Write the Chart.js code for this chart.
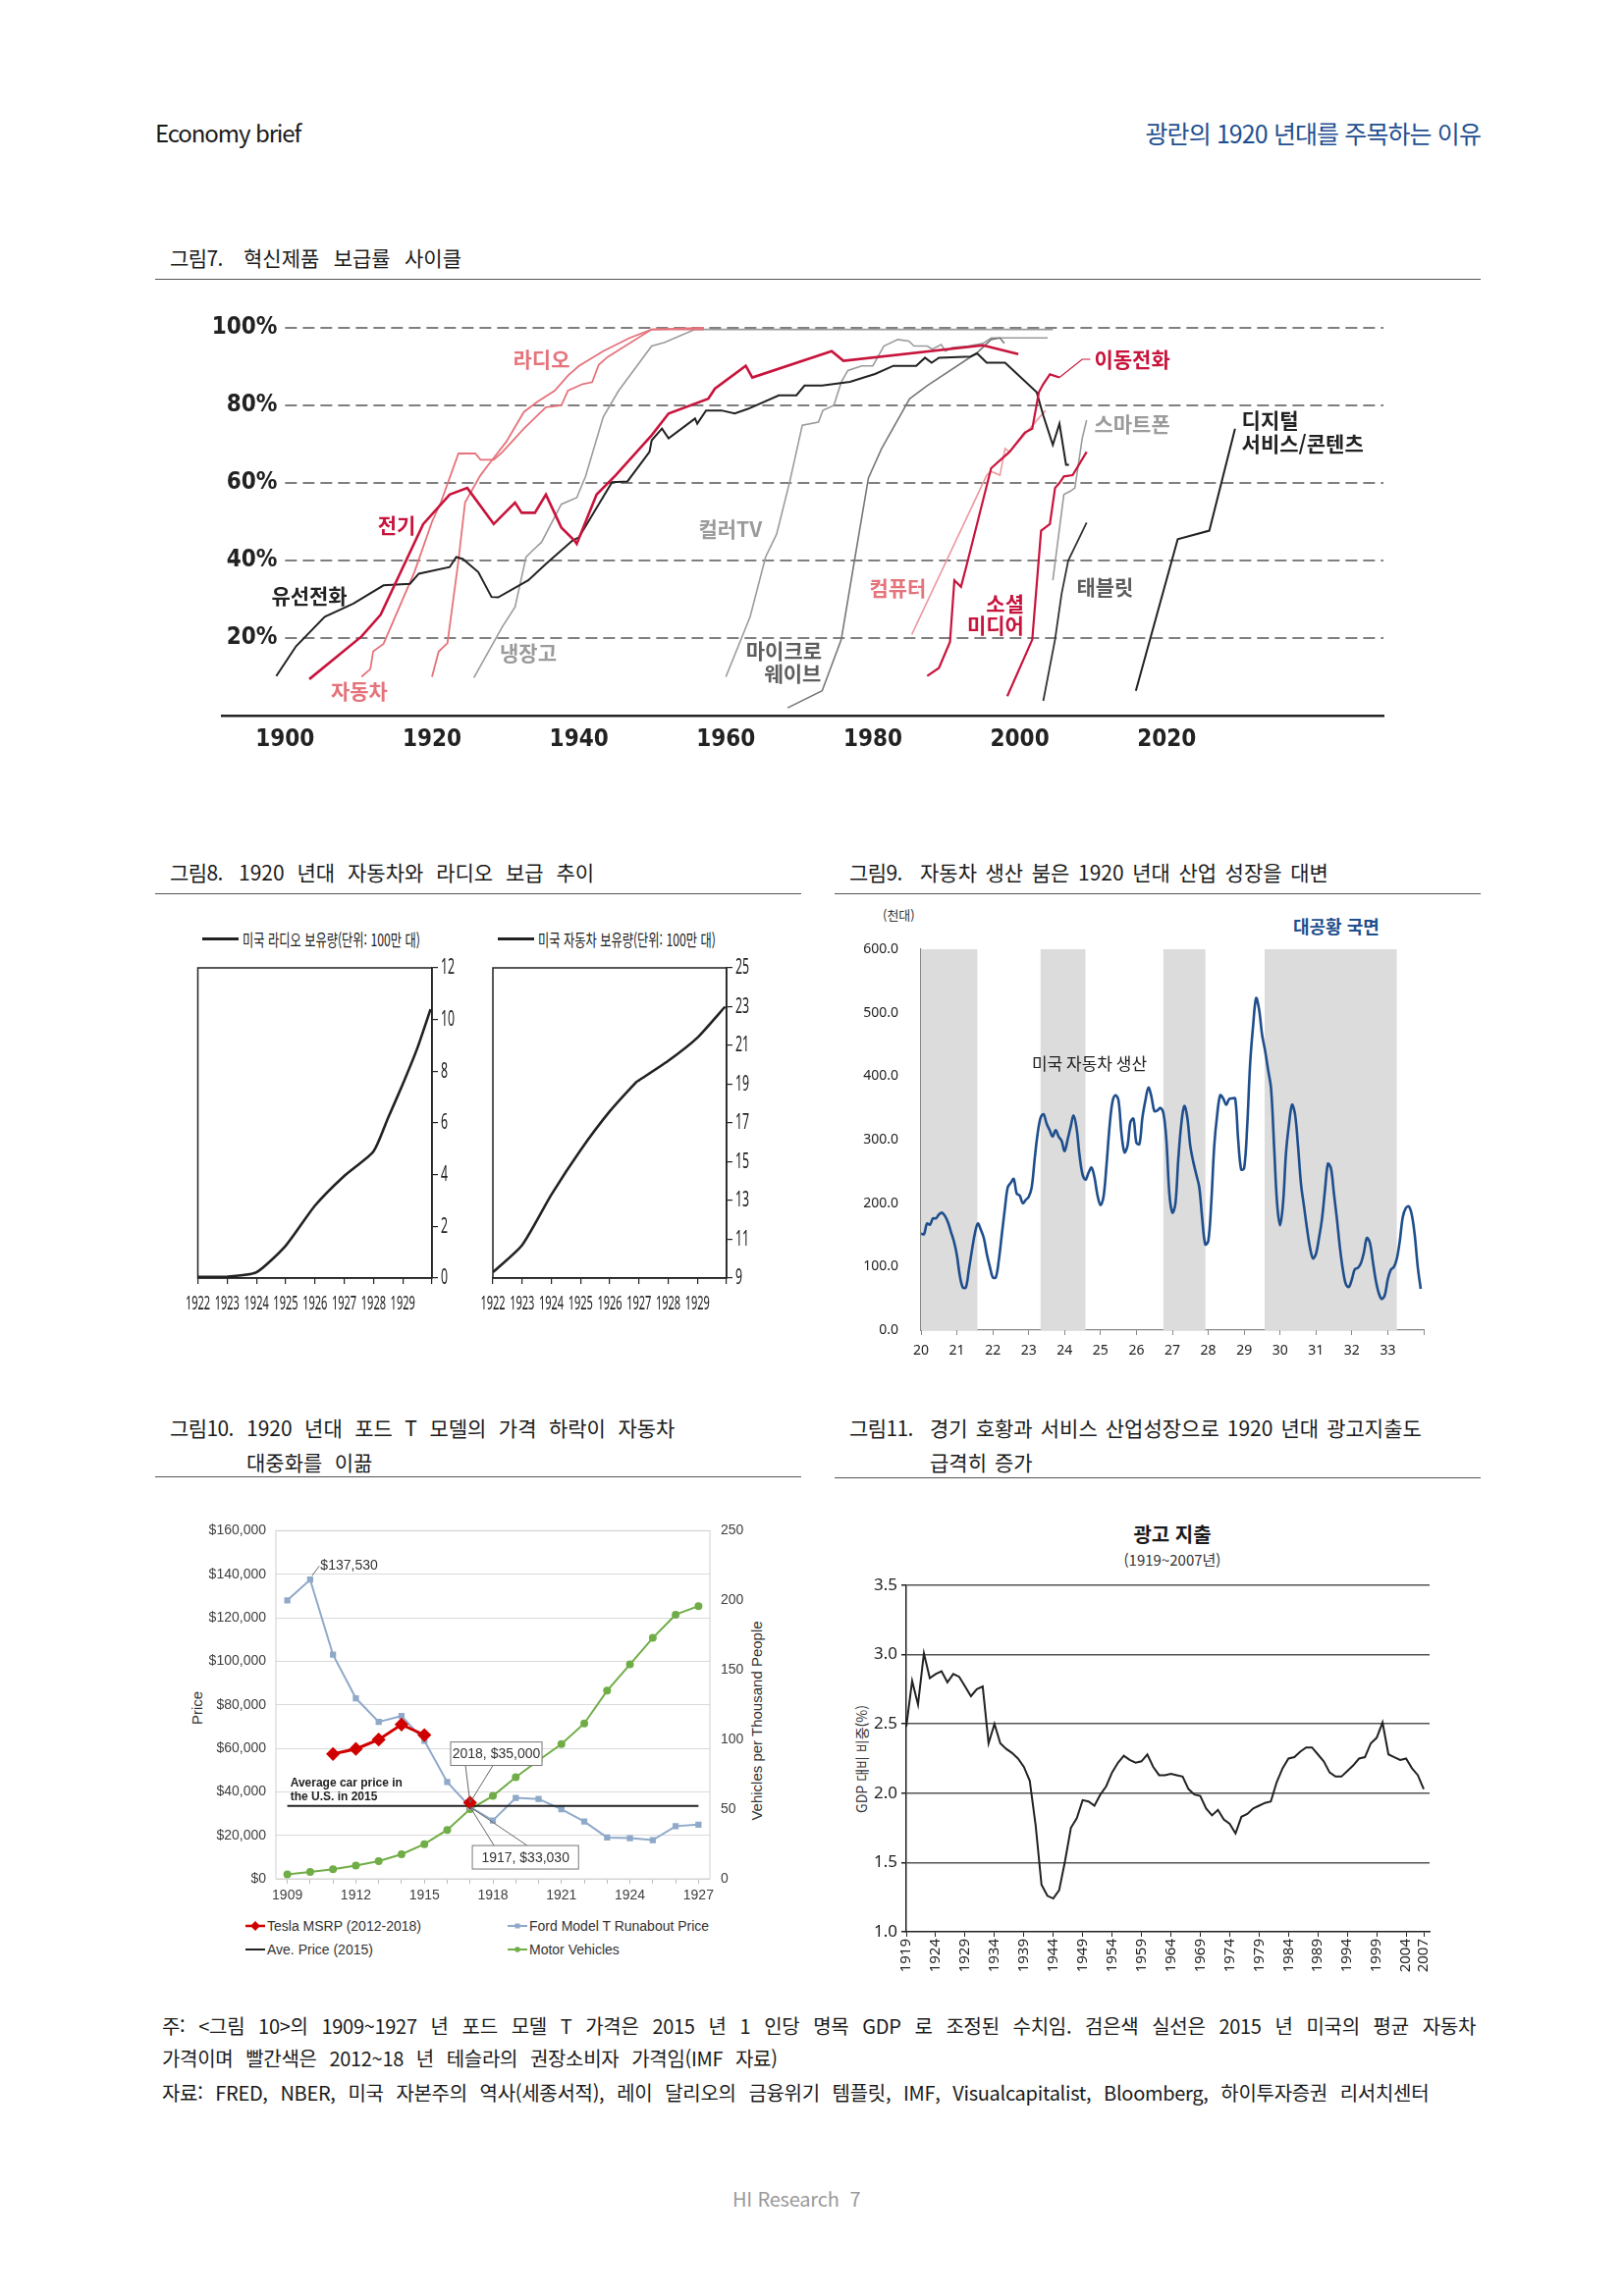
<!DOCTYPE html>
<html lang="ko">
<head>
<meta charset="utf-8">
<title>광란의 1920년대를 주목하는 이유</title>
<script src="https://cdn.jsdelivr.net/npm/chart.js@4.4.1/dist/chart.umd.min.js"></script>
<style>
html, body { margin: 0; padding: 0; background: #fff; }
body { position: relative; width: 1654px; height: 2339px; overflow: hidden;
  font-family: "Noto Sans CJK KR", "Noto Sans", sans-serif; color: #1a1a1a; }
.t { position: absolute; white-space: nowrap; line-height: 1; }
.rot { position: absolute; white-space: nowrap; line-height: 1; transform: translate(-50%, -50%) rotate(-90deg); }
.rule { position: absolute; height: 0; border-top: 1.5px solid #555; }
.fig { font-size: 21px; }
.fig .no { display: inline-block; letter-spacing: -0.6px; word-spacing: 0; }
canvas { position: absolute; }
.note { position: absolute; left: 165px; font-size: 20px; line-height: 1; letter-spacing: -0.3px; word-spacing: 7.5px; white-space: nowrap; }
.lg8 { font-size: 17px; transform: scaleX(0.72); transform-origin: left center; }
.lg10 { position: absolute; font-family: "Liberation Sans", Arial, sans-serif; font-size: 14px; color: #333;
  display: flex; align-items: center; gap: 2px; white-space: nowrap; line-height: 1; }
</style>
</head>
<body>

<div class="t" style="left:158px;top:123px;font-size:24px;letter-spacing:-1.1px;">Economy brief</div>
<div class="t" style="right:146px;top:123px;font-size:25px;letter-spacing:-0.9px;color:#1f4f90;">광란의 1920 년대를 주목하는 이유</div>

<!-- 그림7 -->
<div class="t fig" style="left:173px;top:252px;word-spacing:8.5px;"><span class="no" style="width:75px">그림7.</span>혁신제품 보급률 사이클</div>
<div class="rule" style="left:158px;top:284px;width:1350px;"></div>
<canvas id="c7" width="1350" height="490" style="left:158px;top:300px;"></canvas>

<!-- 그림8 -->
<div class="t fig" style="left:173px;top:878px;word-spacing:7px;"><span class="no" style="width:70px">그림8.</span>1920 년대 자동차와 라디오 보급 추이</div>
<div class="rule" style="left:158px;top:910px;width:658px;"></div>
<div class="t" style="left:206px;top:955px;width:37px;height:3px;background:#222;"></div>
<div class="t lg8" style="left:247px;top:948px;">미국 라디오 보유량(단위: 100만 대)</div>
<div class="t" style="left:507px;top:955px;width:37px;height:3px;background:#222;"></div>
<div class="t lg8" style="left:548px;top:948px;">미국 자동차 보유량(단위: 100만 대)</div>
<canvas id="c8a" width="300" height="420" style="left:180px;top:940px;"></canvas>
<canvas id="c8b" width="300" height="420" style="left:480px;top:940px;"></canvas>

<!-- 그림9 -->
<div class="t fig" style="left:865px;top:878px;word-spacing:2.7px;"><span class="no" style="width:72px">그림9.</span>자동차 생산 붐은 1920 년대 산업 성장을 대변</div>
<div class="rule" style="left:850px;top:910px;width:658px;"></div>
<div class="t" style="left:899px;top:925px;font-size:13px;color:#333;">(천대)</div>
<div class="t" style="left:1317px;top:934px;font-size:18px;font-weight:bold;color:#1f4e8c;">대공황 국면</div>
<canvas id="c9" width="640" height="480" style="left:860px;top:915px;"></canvas>

<!-- 그림10 -->
<div class="t fig" style="left:173px;top:1444px;word-spacing:6.6px;"><span class="no" style="width:78px">그림10.</span>1920 년대 포드 T 모델의 가격 하락이 자동차</div>
<div class="t fig" style="left:251px;top:1479px;word-spacing:6.6px;">대중화를 이끎</div>
<div class="rule" style="left:158px;top:1504px;width:658px;"></div>
<div class="rot" style="left:200px;top:1740px;font-family:'Liberation Sans',Arial,sans-serif;font-size:15px;color:#333;">Price</div>
<div class="rot" style="left:770px;top:1753px;font-family:'Liberation Sans',Arial,sans-serif;font-size:15px;color:#333;">Vehicles per Thousand People</div>
<canvas id="c10" width="640" height="400" style="left:170px;top:1540px;"></canvas>
<div class="lg10" style="left:250px;top:1955px;">
  <svg width="20" height="12"><line x1="0" y1="6" x2="20" y2="6" stroke="#d00000" stroke-width="2.5"/><rect x="6.5" y="2.5" width="7" height="7" fill="#d00000" transform="rotate(45 10 6)"/></svg>Tesla MSRP (2012-2018)</div>
<div class="lg10" style="left:250px;top:1979px;">
  <svg width="20" height="12"><line x1="0" y1="6" x2="20" y2="6" stroke="#222" stroke-width="2"/></svg>Ave. Price (2015)</div>
<div class="lg10" style="left:517px;top:1955px;">
  <svg width="20" height="12"><line x1="0" y1="6" x2="20" y2="6" stroke="#8fa9c9" stroke-width="2"/><rect x="7.5" y="3.5" width="5" height="5" fill="#8fa9c9"/></svg>Ford Model T Runabout Price</div>
<div class="lg10" style="left:517px;top:1979px;">
  <svg width="20" height="12"><line x1="0" y1="6" x2="20" y2="6" stroke="#70ad47" stroke-width="2"/><circle cx="10" cy="6" r="2.8" fill="#70ad47"/></svg>Motor Vehicles</div>

<!-- 그림11 -->
<div class="t fig" style="left:865px;top:1444px;word-spacing:2.2px;"><span class="no" style="width:82px">그림11.</span>경기 호황과 서비스 산업성장으로 1920 년대 광고지출도</div>
<div class="t fig" style="left:947px;top:1479px;word-spacing:2.2px;">급격히 증가</div>
<div class="rule" style="left:850px;top:1505px;width:658px;"></div>
<div class="t" style="left:1194px;top:1553px;font-size:20px;font-weight:bold;transform:translateX(-50%);">광고 지출</div>
<div class="t" style="left:1194px;top:1581px;font-size:15px;transform:translateX(-50%);color:#333;">(1919~2007년)</div>
<div class="rot" style="left:877px;top:1792px;font-size:14px;color:#333;">GDP 대비 비중(%)</div>
<canvas id="c11" width="640" height="490" style="left:850px;top:1540px;"></canvas>

<!-- notes -->
<div class="note" style="top:2054px;width:1338px;text-align:justify;text-align-last:justify;">주: &lt;그림 10&gt;의 1909~1927 년 포드 모델 T 가격은 2015 년 1 인당 명목 GDP 로 조정된 수치임. 검은색 실선은 2015 년 미국의 평균 자동차</div>
<div class="note" style="top:2087px;">가격이며 빨간색은 2012~18 년 테슬라의 권장소비자 가격임(IMF 자료)</div>
<div class="note" style="top:2122px;">자료: FRED, NBER, 미국 자본주의 역사(세종서적), 레이 달리오의 금융위기 템플릿, IMF, Visualcapitalist, Bloomberg, 하이투자증권 리서치센터</div>
<div class="t" style="left:746px;top:2230px;font-size:20px;color:#9a9a9a;letter-spacing:-0.2px;">HI Research&nbsp;&nbsp;7</div>

<script>
// ---------- 그림7: 혁신제품 보급률 [연도, %] ----------
const years7 = [1900, 1920, 1940, 1960, 1980, 2000, 2020];
const pctTicks7 = [20, 40, 60, 80, 100];

const landline = [[1898.8,10.2],[1901.5,17.9],[1905.4,25.5],[1909.3,28.9],[1913.4,33.6],[1917,34],[1918.2,36.6],[1922.4,38.3],[1923.3,40.9],[1924.2,40.4],[1926.3,37],[1928.1,30.6],[1929,30.5],[1933.1,34.9],[1935.5,39.1],[1939.1,45.1],[1940,46],[1944.5,60.2],[1946.6,60.4],[1949.6,68],[1949.9,71],[1951.3,74],[1952.2,71.5],[1955.8,76.6],[1956.1,75.3],[1957.3,78.7],[1959.4,78.7],[1961.2,77.9],[1963,79.1],[1967.2,82.6],[1969.6,82.6],[1970.7,85.1],[1973.1,85.1],[1976.9,86.1],[1978.8,87.2],[1980.3,88.1],[1982.8,90.2],[1985.9,90.2],[1987.1,92.3],[1988,91],[1989,92.3],[1993.3,92.6],[1994.2,93.4],[1995.5,91],[1998,91],[2002.3,83.4],[2003.2,77.4],[2004.5,69.8],[2005.4,75.3],[2006.3,64.7],[2006.7,64.7]];
const electric = [[1903.3,9.4],[1910.4,20.4],[1913,26],[1918.8,49.4],[1922.4,57],[1924.8,58.7],[1928.4,49.4],[1931.3,54.9],[1932.2,52.3],[1934,52.3],[1935.5,57],[1937.6,48.5],[1939.4,45.1],[1939.7,44.3],[1942.4,57],[1945,62],[1949.9,72.3],[1952.2,77.9],[1957.6,81.7],[1958.5,84.3],[1962.7,90.2],[1963.6,87.2],[1974.4,94],[1976,91.5],[1995,95.5],[1999.8,93.2]];
const car = [[1910.4,10],[1911.6,12],[1912,16.6],[1913.4,18.5],[1917.6,37],[1920,50],[1921.2,55],[1923.6,67.6],[1925.9,67.6],[1926.6,66],[1928.4,66],[1929.6,68],[1932.5,74],[1935.5,79.5],[1937.6,80],[1938.5,83.8],[1940.5,85.5],[1941.8,86],[1942.7,90.5],[1943.9,92.5],[1949.9,99.6],[1957,99.6]];
const radio = [[1920,10],[1920.9,16.5],[1922.1,18.7],[1923.6,40],[1924.5,55],[1926.6,62],[1927.8,65],[1930.1,70.6],[1932.5,78.3],[1934.3,80.9],[1936.7,83.8],[1938.5,87.7],[1940,90.2],[1943.3,94],[1946.9,97.4],[1949.9,99.6],[1957,100]];
const fridge = [[1925.7,9.8],[1929.6,23],[1931.3,28],[1932.8,40.9],[1933.7,42.6],[1934.9,44.7],[1937.6,54.5],[1939.7,56.2],[1940.9,61.7],[1943.3,77],[1945.4,83.8],[1949.9,95.3],[1951.6,96.2],[1955.8,99.6],[2004.5,99.6]];
const colorTv = [[1960,10],[1963.3,25.5],[1965.4,40.9],[1966.9,46.8],[1968.7,60.4],[1970.4,74.9],[1972.6,75.7],[1973.2,78.7],[1974.7,80],[1975.7,86],[1976.6,89],[1978.5,90.2],[1980,90.2],[1981.5,95.3],[1983.4,97],[1984.9,96.6],[1985.6,95.3],[1987.4,95.3],[1988.1,94.5],[1989.3,95.7],[1989.9,94],[1990.8,94.9],[1993,95.3],[1995,96],[1996.1,97.4],[2003.8,97.4]];
const microwave = [[1968.4,2],[1973.1,6.4],[1975.7,19.6],[1977.5,40],[1979.4,61.3],[1981.2,68.9],[1985,81.7],[1987.4,85.1],[1994.2,93.6],[1996.1,97],[1997.3,97.4],[1997.9,96]];
const computer = [[1985.3,20.9],[1995.5,62],[1996.1,63],[1997.3,62],[1998,68.9],[1998.6,68],[2003.5,78.7]];
const mobile = [[1987.4,10.2],[1989,12.3],[1990.5,19],[1991.1,34.9],[1992,33.2],[1992.7,38.3],[1996.1,63.8],[1998.6,68],[2000.7,73],[2001.7,74],[2002.6,83.4],[2003.2,85.5],[2004.1,88],[2005.4,87.2]];
const social = [[1998.3,5],[2001.7,19.6],[2002.9,47.7],[2004.1,49.4],[2004.8,58.7],[2005.4,60],[2006,61.7],[2007.2,62],[2009.1,68]];
const smartphone = [[2004.5,34.9],[2006,57],[2006.9,57.9],[2007.5,58.7],[2008.5,71.5],[2009.1,76.2]];
const tablet = [[2003.2,3.8],[2004.8,19.6],[2005.7,31.5],[2006.6,40],[2009.1,49.8]];
const digital = [[2015.8,6.4],[2021.5,45.5],[2025.8,47.7],[2029.3,74]];

// ---------- 그림8: 보유량 (100만 대) ----------
const years8 = [1922, 1923, 1924, 1925, 1926, 1927, 1928, 1929];
const radioStock = [[1922,0.05],[1923,0.05],[1924,0.22],[1925,1.25],[1926,2.8],[1927,3.95],[1928,4.9],[1928.5,6.2],[1929,7.5],[1929.5,8.9],[1929.95,10.4]];
const carStock = [[1922,9.3],[1923,10.7],[1924,13.3],[1925,15.6],[1926,17.6],[1926.9,19.1],[1927,19.2],[1928,20.2],[1929,21.4],[1929.95,23.0]];

// ---------- 그림9: 미국 자동차 생산 (천대, 1920.1~1933.12 월별) ----------
const prod9 = [
  152,151,168,166,176,176,182,185,180,170,155,140,
  118,85,67,67,95,125,152,168,158,145,120,100,
  83,83,110,150,190,225,232,238,215,212,200,205,
  210,225,270,310,335,340,325,315,305,315,305,298,
  282,300,320,338,318,275,245,237,248,256,240,212,
  197,210,260,320,360,370,362,310,280,290,328,333,
  295,293,335,362,382,368,345,346,350,342,300,215,
  185,198,270,325,353,335,290,265,245,225,175,135,
  140,200,290,340,370,365,355,364,365,365,300,253,
  255,320,420,480,523,505,465,440,410,380,290,200,
  165,200,280,325,355,340,290,230,195,160,130,113,
  120,145,175,220,262,255,215,175,130,95,72,68,
  80,96,98,105,122,145,138,108,78,58,49,55,
  80,95,99,112,140,178,192,195,182,150,100,65
];
const recessions9 = [[1920.0,1921.57],[1923.33,1924.58],[1926.75,1927.92],[1929.57,1933.25]];
const yearTicks9 = [1920,1921,1922,1923,1924,1925,1926,1927,1928,1929,1930,1931,1932,1933,1934];

// ---------- 그림10: 포드 T 모델 가격 ----------
const years10 = [1909,1910,1911,1912,1913,1914,1915,1916,1917,1918,1919,1920,1921,1922,1923,1924,1925,1926,1927];
const fordPrice = [128000,137530,103000,83000,72100,74900,63500,44500,33030,26800,37200,36700,32000,26300,19000,18700,17800,24200,24900];
const teslaPrice = [null,null,57400,59700,64000,70900,66100,null,35000,null,null,null,null,null,null,null,null,null,null];
const avePrice = [33500,null,null,null,null,null,null,null,null,null,null,null,null,null,null,null,null,null,33500];
const vehicles = [3.2,4.9,6.8,9.5,12.7,17.6,24.9,35.1,50,59.5,73,85.1,96.8,111.6,135.1,154,173,189.7,195.9];

// ---------- 그림11: 광고 지출 (GDP 대비 %, 1919~2007) ----------
const adYears = [1919,1924,1929,1934,1939,1944,1949,1954,1959,1964,1969,1974,1979,1984,1989,1994,1999,2004,2007];
const adSpend = [
  2.48,2.81,2.64,3.01,2.83,2.86,2.88,2.80,2.86,2.84,
  2.77,2.70,2.75,2.77,2.36,2.50,2.36,2.32,2.29,2.25,
  2.19,2.09,1.77,1.34,1.26,1.24,1.30,1.51,1.75,1.82,
  1.95,1.94,1.91,1.99,2.05,2.15,2.22,2.27,2.24,2.22,
  2.23,2.28,2.19,2.13,2.13,2.14,2.13,2.12,2.03,1.99,
  1.98,1.89,1.84,1.88,1.81,1.78,1.71,1.83,1.85,1.89,
  1.91,1.93,1.94,2.08,2.18,2.25,2.26,2.30,2.33,2.33,
  2.28,2.23,2.15,2.12,2.12,2.16,2.20,2.25,2.26,2.36,
  2.40,2.51,2.28,2.26,2.24,2.25,2.18,2.13,2.03
];

// ---------- common ----------
const CONDENSED = '"DejaVu Sans Condensed", "Liberation Sans Narrow", sans-serif';
const KR = '"Noto Sans CJK KR", "Noto Sans", sans-serif';
const ARIAL = '"Liberation Sans", Arial, sans-serif';

const CRIMSON = '#c8143c';
const PINK = '#e5737b';
const GRAY = '#9b9b9b';
const DGRAY = '#5e5e5e';
const BLACK = '#222';

Chart.defaults.animation = false;
Chart.defaults.responsive = false;
Chart.defaults.plugins.legend.display = false;
Chart.defaults.plugins.tooltip.enabled = false;
Chart.defaults.color = '#222';
Chart.defaults.font.family = 'Noto Sans';

const xy = pairs => pairs.map(([x, y]) => ({x, y}));

// ---------- 그림7 ----------
const labels7 = [
  {t: '라디오', x: 1934.9, y: 92, c: PINK},
  {t: '전기', x: 1915.2, y: 49, c: CRIMSON},
  {t: '유선전화', x: 1903.3, y: 31, c: BLACK},
  {t: '자동차', x: 1910.1, y: 6.4, c: PINK},
  {t: '냉장고', x: 1933.1, y: 16.2, c: GRAY},
  {t: '컬러TV', x: 1960.6, y: 48.1, c: GRAY},
  {t: '마이크로', x: 1967.9, y: 16.8, c: DGRAY},
  {t: '웨이브', x: 1969.1, y: 11, c: DGRAY},
  {t: '컴퓨터', x: 1983.4, y: 32.8, c: PINK},
  {t: '소셜', x: 1998, y: 28.9, c: CRIMSON},
  {t: '미디어', x: 1996.7, y: 23.4, c: CRIMSON},
  {t: '태블릿', x: 2011.6, y: 33.2, c: DGRAY},
  {t: '스마트폰', x: 2015.3, y: 75.3, c: GRAY},
  {t: '이동전화', x: 2015.3, y: 91.9, c: CRIMSON},
  {t: '디지털', x: 2030.2, y: 76.2, c: BLACK, left: true},
  {t: '서비스/콘텐츠', x: 2030.2, y: 70.2, c: BLACK, left: true}
];
const leaders7 = [{c: CRIMSON, pts: [[2005.4, 87.2], [2008.5, 91.9], [2009.6, 91.9]]}];

const grid7 = {
  id: 'grid7',
  beforeDatasetsDraw(chart) {
    const {ctx, chartArea, scales: {x, y}} = chart;
    const x0 = x.getPixelForValue(1900);
    ctx.save();
    ctx.strokeStyle = '#555';
    ctx.lineWidth = 1.5;
    ctx.setLineDash([12, 6]);
    ctx.fillStyle = BLACK;
    ctx.font = 'bold 24px ' + CONDENSED;
    ctx.textAlign = 'right';
    ctx.textBaseline = 'middle';
    pctTicks7.forEach(v => {
      const py = y.getPixelForValue(v);
      ctx.beginPath();
      ctx.moveTo(x0, py);
      ctx.lineTo(chartArea.right, py);
      ctx.stroke();
      ctx.fillText(v + '%', x0 - 8, py);
    });
    ctx.restore();
  }
};
const text7 = {
  id: 'text7',
  afterDatasetsDraw(chart) {
    const {ctx, scales: {x, y}} = chart;
    ctx.save();
    leaders7.forEach(l => {
      ctx.strokeStyle = l.c;
      ctx.lineWidth = 1.2;
      ctx.beginPath();
      l.pts.forEach(([px, py], i) => {
        const a = x.getPixelForValue(px), b = y.getPixelForValue(py);
        i ? ctx.lineTo(a, b) : ctx.moveTo(a, b);
      });
      ctx.stroke();
    });
    ctx.font = 'bold 21px ' + KR;
    ctx.textBaseline = 'middle';
    labels7.forEach(l => {
      ctx.fillStyle = l.c;
      ctx.textAlign = l.left ? 'left' : 'center';
      ctx.fillText(l.t, x.getPixelForValue(l.x), y.getPixelForValue(l.y));
    });
    ctx.restore();
  }
};

const series7 = [
  {data: electric, color: CRIMSON, width: 2.6},
  {data: mobile, color: CRIMSON, width: 2.2},
  {data: social, color: CRIMSON, width: 2.2},
  {data: landline, color: BLACK, width: 2},
  {data: digital, color: BLACK, width: 2},
  {data: tablet, color: '#333', width: 1.8},
  {data: car, color: PINK, width: 1.8},
  {data: radio, color: PINK, width: 1.8},
  {data: computer, color: '#ec9aa0', width: 1.6},
  {data: microwave, color: '#777', width: 1.6},
  {data: fridge, color: GRAY, width: 1.6},
  {data: colorTv, color: GRAY, width: 1.6},
  {data: smartphone, color: GRAY, width: 1.6}
];

new Chart(document.getElementById('c7'), {
  type: 'line',
  data: {
    datasets: series7.map(s => ({
      data: xy(s.data), borderColor: s.color, borderWidth: s.width,
      pointRadius: 0, tension: 0, clip: false
    }))
  },
  options: {
    layout: {padding: {left: 68, right: 99, top: 34, bottom: 0}},
    scales: {
      x: {
        type: 'linear', min: 1891.4, max: 2049.5,
        afterBuildTicks: s => { s.ticks = years7.map(v => ({value: v})); },
        afterFit: s => { s.height = 61; },
        grid: {display: false, drawTicks: false},
        border: {display: true, color: BLACK, width: 2.5},
        ticks: {autoSkip: false, maxRotation: 0, padding: 10, color: BLACK,
          font: {family: CONDENSED, size: 24, weight: 'bold'}, callback: v => String(v)}
      },
      y: {display: false, min: 0, max: 100}
    }
  },
  plugins: [grid7, text7]
});

// ---------- 그림8 ----------
// 원본의 좁은 글꼴을 흉내내기 위해 눈금 글자를 가로로 압축해서 그림
const box8 = {
  id: 'box8',
  afterDraw(chart) {
    const {ctx, chartArea: a, scales: {x, y}} = chart;
    ctx.save();
    ctx.strokeStyle = BLACK;
    ctx.lineWidth = 1.5;
    ctx.strokeRect(a.left, a.top, a.right - a.left, a.bottom - a.top);
    ctx.fillStyle = BLACK;
    ctx.textBaseline = 'middle';
    ctx.font = '19px "Noto Sans", sans-serif';
    ctx.textAlign = 'center';
    years8.forEach(v => {
      ctx.save();
      ctx.translate(x.getPixelForValue(v), a.bottom + 27);
      ctx.scale(0.58, 1);
      ctx.fillText(String(v), 0, 0);
      ctx.restore();
    });
    ctx.font = '22px "Noto Sans", sans-serif';
    ctx.textAlign = 'left';
    y.ticks.forEach(t => {
      ctx.save();
      ctx.translate(a.right + 9, y.getPixelForValue(t.value));
      ctx.scale(0.56, 1);
      ctx.fillText(String(t.value), 0, 0);
      ctx.restore();
    });
    ctx.restore();
  }
};
function stockChart(id, pairs, min, max, padLeft) {
  return new Chart(document.getElementById(id), {
    type: 'line',
    data: {datasets: [{data: xy(pairs), borderColor: BLACK, borderWidth: 2.6, pointRadius: 0, tension: 0.2}]},
    options: {
      layout: {padding: {left: padLeft, right: 0, top: 46, bottom: 0}},
      scales: {
        x: {
          type: 'linear', min: 1922, max: 1930,
          afterBuildTicks: s => { s.ticks = years8.concat([1930]).map(v => ({value: v})); },
          afterFit: s => { s.height = 58; },
          grid: {display: true, drawOnChartArea: false, drawTicks: true, tickLength: 6, color: BLACK, lineWidth: 1.2},
          border: {display: true, color: BLACK, width: 1.5},
          ticks: {display: false}
        },
        y: {
          position: 'right', min, max,
          afterFit: s => { s.width = 40; },
          grid: {display: true, drawOnChartArea: false, drawTicks: true, tickLength: 6, color: BLACK, lineWidth: 1.2},
          border: {display: true, color: BLACK, width: 1.5},
          ticks: {display: false, stepSize: 2}
        }
      }
    },
    plugins: [box8]
  });
}
stockChart('c8a', radioStock, 0, 12, 21.5);
stockChart('c8b', carStock, 9, 25, 22);

// ---------- 그림9 ----------
const shade9 = {
  id: 'shade9',
  beforeDatasetsDraw(chart) {
    const {ctx, scales: {x, y}} = chart;
    ctx.save();
    ctx.fillStyle = '#dcdcdc';
    recessions9.forEach(([a, b]) => {
      const x0 = x.getPixelForValue(a), x1 = x.getPixelForValue(b);
      const y0 = y.getPixelForValue(600), y1 = y.getPixelForValue(0);
      ctx.fillRect(x0, y0, x1 - x0, y1 - y0);
    });
    ctx.restore();
  },
  afterDatasetsDraw(chart) {
    const {ctx, scales: {x, y}} = chart;
    ctx.save();
    ctx.font = '17px ' + KR;
    ctx.fillStyle = '#222';
    ctx.textAlign = 'center';
    ctx.textBaseline = 'middle';
    ctx.fillText('미국 자동차 생산', x.getPixelForValue(1924.69), y.getPixelForValue(419));
    ctx.restore();
  }
};
new Chart(document.getElementById('c9'), {
  type: 'line',
  data: {datasets: [{data: prod9.map((v, i) => ({x: 1920 + i / 12, y: v})),
    borderColor: '#1f4e8c', borderWidth: 2.6, pointRadius: 0, tension: 0.35}]},
  options: {
    layout: {padding: {left: 0, right: 50, top: 52, bottom: 0}},
    scales: {
      x: {
        type: 'linear', min: 1920, max: 1934,
        afterBuildTicks: s => { s.ticks = yearTicks9.map(v => ({value: v})); },
        afterFit: s => { s.height = 40; },
        grid: {display: true, drawOnChartArea: false, drawTicks: true, tickLength: 5, color: '#888'},
        border: {display: true, color: '#888', width: 1.2},
        ticks: {autoSkip: false, maxRotation: 0, padding: 8, color: '#222', font: {size: 14},
          callback: v => v < 1934 ? String(v).slice(2) : ''}
      },
      y: {
        min: 0, max: 600,
        afterFit: s => { s.width = 78; },
        grid: {display: false},
        border: {display: true, color: '#888', width: 1.2},
        ticks: {stepSize: 100, padding: 15, color: '#222', font: {size: 14}, callback: v => v.toFixed(1)}
      }
    }
  },
  plugins: [shade9]
});

// ---------- 그림10 ----------
const notes10 = {
  id: 'notes10',
  beforeDatasetsDraw(chart) {
    const a = chart.chartArea, ctx = chart.ctx;
    ctx.save();
    ctx.strokeStyle = '#d0d0d0';
    ctx.lineWidth = 1;
    ctx.strokeRect(a.left, a.top, a.right - a.left, a.bottom - a.top);
    ctx.restore();
  },
  afterDatasetsDraw(chart) {
    const {ctx, scales: {x, y}} = chart;
    const px = i => x.getPixelForValue(i);
    const py = v => y.getPixelForValue(v);
    ctx.save();
    ctx.strokeStyle = '#666';
    ctx.lineWidth = 1;
    const line = (a, b, c, d) => { ctx.beginPath(); ctx.moveTo(a, b); ctx.lineTo(c, d); ctx.stroke(); };
    // $137,530
    line(px(1) + 2, py(137530) - 4, px(1.4), py(143800));
    ctx.font = '14px ' + ARIAL;
    ctx.fillStyle = '#333';
    ctx.textBaseline = 'middle';
    ctx.textAlign = 'left';
    ctx.fillText('$137,530', px(1.45), py(143800));
    // 2018 / 1917 callouts
    line(px(8), py(35000), px(7.8), py(52100));
    line(px(8), py(35000), px(9.0), py(52100));
    line(px(8), py(33030), px(9.05), py(15300));
    line(px(8), py(33030), px(10.5), py(15300));
    const box = (i0, i1, v0, v1, text) => {
      const x0 = px(i0), x1 = px(i1), y0 = py(v0), y1 = py(v1);
      ctx.fillStyle = '#fff';
      ctx.fillRect(x0, y0, x1 - x0, y1 - y0);
      ctx.strokeStyle = '#777';
      ctx.strokeRect(x0, y0, x1 - x0, y1 - y0);
      ctx.fillStyle = '#333';
      ctx.textAlign = 'center';
      ctx.fillText(text, (x0 + x1) / 2, (y0 + y1) / 2 + 1);
    };
    box(7.15, 11.15, 62900, 52100, '2018, $35,000');
    box(8.1, 12.75, 15300, 4500, '1917, $33,030');
    // average price note
    ctx.font = 'bold 12px ' + ARIAL;
    ctx.fillStyle = '#222';
    ctx.textAlign = 'left';
    ctx.fillText('Average car price in', px(0.13), py(43800));
    ctx.fillText('the U.S. in 2015', px(0.13), py(37400));
    ctx.restore();
  }
};
new Chart(document.getElementById('c10'), {
  type: 'line',
  data: {
    labels: years10,
    datasets: [
      {data: teslaPrice, yAxisID: 'y', borderColor: '#d00000', backgroundColor: '#d00000', borderWidth: 3,
        pointStyle: 'rectRot', pointRadius: 5, spanGaps: false},
      {data: avePrice, yAxisID: 'y', borderColor: BLACK, borderWidth: 2, pointRadius: 0, spanGaps: true},
      {data: fordPrice, yAxisID: 'y', borderColor: '#8fa9c9', backgroundColor: '#8fa9c9', borderWidth: 2,
        pointStyle: 'rect', pointRadius: 3},
      {data: vehicles, yAxisID: 'y2', borderColor: '#70ad47', backgroundColor: '#70ad47', borderWidth: 2,
        pointStyle: 'circle', pointRadius: 3}
    ]
  },
  options: {
    layout: {padding: {left: 0, right: 0, top: 18, bottom: 0}},
    scales: {
      x: {
        type: 'category', offset: true,
        afterFit: s => { s.height = 26; },
        grid: {display: true, drawOnChartArea: false, drawTicks: true, tickLength: 5, color: '#bbb'},
        border: {display: false},
        ticks: {autoSkip: false, maxRotation: 0, padding: 4, color: '#404040', font: {family: ARIAL, size: 14},
          callback: (v, i) => i % 3 === 0 ? String(years10[i]) : ''}
      },
      y: {
        position: 'left', min: 0, max: 160000,
        afterFit: s => { s.width = 111; },
        grid: {color: '#dadada', drawTicks: false},
        border: {display: false},
        ticks: {stepSize: 20000, padding: 10, color: '#404040', font: {family: ARIAL, size: 14},
          callback: v => '$' + v.toLocaleString('en-US')}
      },
      y2: {
        position: 'right', min: 0, max: 250,
        afterFit: s => { s.width = 87; },
        grid: {drawOnChartArea: false, drawTicks: false},
        border: {display: false},
        ticks: {stepSize: 50, padding: 11, color: '#404040', font: {family: ARIAL, size: 14}}
      }
    }
  },
  plugins: [notes10]
});

// ---------- 그림11 ----------
new Chart(document.getElementById('c11'), {
  type: 'line',
  data: {datasets: [{data: adSpend.map((v, i) => ({x: 1919 + i, y: v})),
    borderColor: BLACK, borderWidth: 2, pointRadius: 0, tension: 0}]},
  options: {
    layout: {padding: {left: 0, right: 34, top: 75, bottom: 0}},
    scales: {
      x: {
        type: 'linear', min: 1919, max: 2008,
        afterBuildTicks: s => { s.ticks = adYears.map(v => ({value: v})); },
        afterFit: s => { s.height = 62; },
        grid: {display: true, drawOnChartArea: false, drawTicks: true, tickLength: 5, color: BLACK},
        border: {display: true, color: BLACK, width: 1.5},
        ticks: {autoSkip: false, minRotation: 90, maxRotation: 90, padding: 2, color: BLACK,
          font: {size: 15}, callback: v => String(v)}
      },
      y: {
        min: 1, max: 3.5,
        afterFit: s => { s.width = 73; },
        grid: {color: c => (c.tick && c.tick.value === 1) ? 'rgba(0,0,0,0)' : '#555', lineWidth: 1.5,
          drawTicks: true, tickLength: 5, tickColor: BLACK},
        border: {display: true, color: BLACK, width: 1.5},
        ticks: {stepSize: 0.5, padding: 4, color: BLACK, font: {size: 17}, callback: v => v.toFixed(1)}
      }
    }
  }
});
</script>
</body>
</html>
